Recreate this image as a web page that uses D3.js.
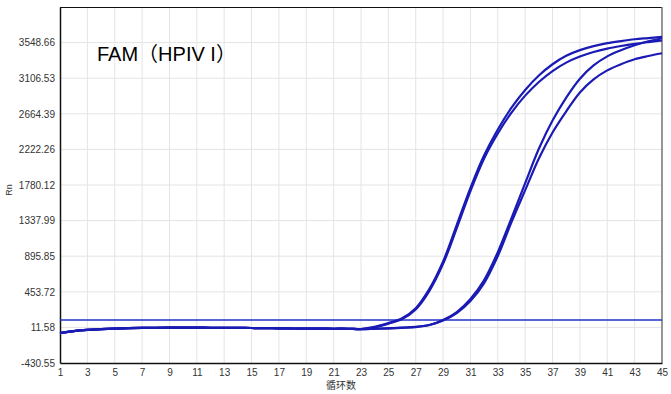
<!DOCTYPE html>
<html><head><meta charset="utf-8">
<script src="https://cdn.jsdelivr.net/npm/d3@7"></script>
<style>body{margin:0;background:#fff;}svg{display:block;}</style>
</head><body>
<script>
const cycles = d3.range(1, 46);
const yTicks = [-430.55, 11.58, 453.72, 895.85, 1337.99, 1780.12, 2222.26, 2664.39, 3106.53, 3548.66];
const yMax = 3990.79;
const xTicks = d3.range(1, 46, 2);
const threshold = 103;
const title = "FAM（HPIV I）";
const baseline = [-58, -35, -20, -10, -3, 2, 5, 7, 8, 8, 8, 7, 6, 5, 4, 2, 0, -2, -3, -4, -5, -5];
const early1 = [-8, 18, 65, 125, 250, 490, 830, 1285, 1745, 2150, 2470, 2740, 2960, 3140, 3280, 3385, 3455, 3505, 3542, 3568, 3590, 3605, 3620];
const early2 = [-10, 14, 58, 115, 235, 465, 800, 1245, 1705, 2110, 2420, 2680, 2890, 3060, 3195, 3300, 3375, 3432, 3474, 3506, 3533, 3555, 3575];
const late1 = [-10, -5, 0, 8, 18, 41, 103, 202, 364, 600, 947, 1369, 1803, 2230, 2580, 2865, 3100, 3265, 3378, 3454, 3516, 3565, 3603];
const late2 = [-10, -6, -1, 6, 16, 41, 97, 190, 339, 562, 897, 1319, 1716, 2110, 2432, 2695, 2930, 3092, 3204, 3280, 3342, 3382, 3416];
const series = [early1, early2, late1, late2].map(s => baseline.concat(s));

const W = 671, H = 394;
const m = {l: 60, t: 7, r: 662, b: 363};
const svg = d3.select("body").append("svg").attr("width", W).attr("height", H);
const x = d3.scaleLinear().domain([1, 45]).range([m.l, m.r]);
const y = d3.scaleLinear().domain([yTicks[0], yMax]).range([m.b, m.t]);

// grid
svg.append("g").selectAll("line").data(xTicks.slice(1)).join("line")
  .attr("x1", d => x(d)).attr("x2", d => x(d)).attr("y1", m.t).attr("y2", m.b)
  .attr("stroke", "#e4e4e4").attr("stroke-width", 1);
svg.append("g").selectAll("line").data(yTicks.slice(1)).join("line")
  .attr("x1", m.l).attr("x2", m.r).attr("y1", d => y(d)).attr("y2", d => y(d))
  .attr("stroke", "#e4e4e4").attr("stroke-width", 1);

// borders
svg.append("line").attr("x1", m.l).attr("x2", m.r).attr("y1", m.t + 0.5).attr("y2", m.t + 0.5).attr("stroke", "#111").attr("stroke-width", 1.2);
svg.append("line").attr("x1", m.r).attr("x2", m.r).attr("y1", m.t).attr("y2", m.b).attr("stroke", "#777").attr("stroke-width", 1.5);

// axes
const ax = svg.append("g").attr("transform", `translate(0,${m.b})`)
  .call(d3.axisBottom(x).tickValues(xTicks).tickSize(0).tickPadding(6).tickFormat(d3.format("d")));
const ay = svg.append("g").attr("transform", `translate(${m.l},0)`)
  .call(d3.axisLeft(y).tickValues(yTicks).tickSize(0).tickPadding(5).tickFormat(d => d.toFixed(2)));
[ax, ay].forEach(g => {
  g.select(".domain").attr("stroke", "#111").attr("stroke-width", 1.5);
  g.selectAll("text").attr("font-family", "Liberation Sans, Arial, sans-serif").attr("font-size", 10).attr("fill", "#333");
});

// threshold
svg.append("line").attr("x1", m.l).attr("x2", m.r).attr("y1", y(threshold)).attr("y2", y(threshold))
  .attr("stroke", "#2230c8").attr("stroke-width", 1.6);

// curves
const line = d3.line().x((d, i) => x(cycles[i])).y(d => y(d)).curve(d3.curveCatmullRom.alpha(0.5));
svg.append("g").selectAll("path").data(series).join("path")
  .attr("d", line).attr("fill", "none").attr("stroke", "#1a1ab4").attr("stroke-width", 2.2);

// title
svg.append("text").attr("x", 97).attr("y", 61).text(title)
  .attr("font-family", "Liberation Sans, Arial, Noto Sans CJK SC, sans-serif").attr("font-size", 20).attr("fill", "#000");

// axis labels
svg.append("text").attr("transform", "translate(12,190) rotate(-90)").attr("text-anchor", "middle")
  .text("Rn").attr("font-family", "Liberation Sans, Arial, sans-serif").attr("font-size", 9).attr("fill", "#333");
svg.append("text").attr("x", 341).attr("y", 389).attr("text-anchor", "middle")
  .text("循环数").attr("font-family", "Noto Sans CJK SC, sans-serif").attr("font-size", 10).attr("fill", "#333");
</script>
</body></html>
